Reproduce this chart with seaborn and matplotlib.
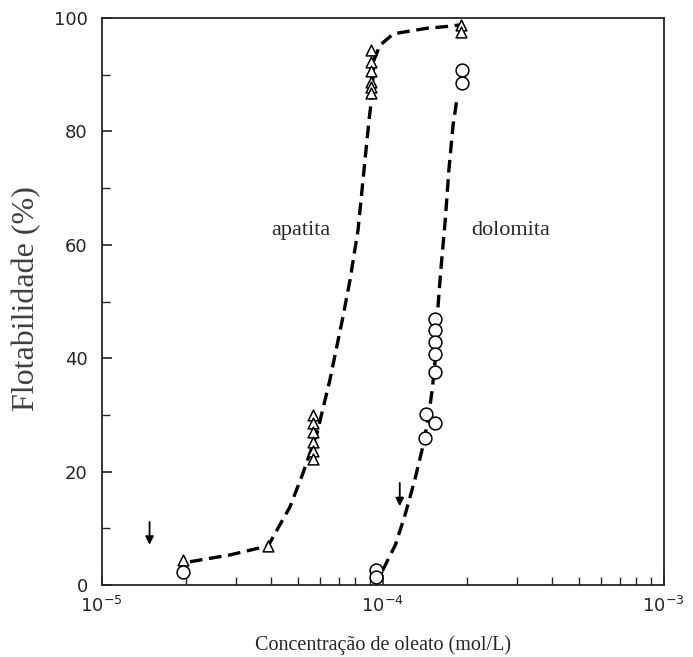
import matplotlib
matplotlib.use("Agg")
import matplotlib.pyplot as plt
import numpy as np
import pandas as pd
import seaborn as sns

# measured points (concentration mol/L, flotability %)
apatita_x = [1.95e-5, 3.9e-5, 5.65e-5, 5.65e-5, 5.65e-5, 5.65e-5, 5.65e-5, 5.65e-5,
             9.1e-5, 9.1e-5, 9.1e-5, 9.1e-5, 9.1e-5, 9.1e-5, 1.9e-4, 1.9e-4]
apatita_y = [4.4, 6.8, 30.0, 28.5, 26.9, 25.3, 23.7, 22.2,
             94.4, 92.3, 90.6, 88.8, 87.8, 86.8, 98.8, 97.6]

dolomita_x = [1.95e-5, 9.5e-5, 9.5e-5, 1.53e-4, 1.53e-4, 1.53e-4, 1.53e-4, 1.53e-4,
              1.43e-4, 1.53e-4, 1.41e-4, 1.92e-4, 1.92e-4]
dolomita_y = [2.3, 2.6, 1.4, 47.0, 44.9, 42.9, 40.7, 37.6,
              30.1, 28.6, 26.0, 90.8, 88.5]

# hand-drawn trend curves
apatita_curve_x = [2.06e-5, 2.86e-5, 3.91e-5, 4.68e-5, 5.21e-5, 5.84e-5, 6.49e-5, 7.22e-5,
                   7.65e-5, 8.17e-5, 8.58e-5, 8.94e-5, 9.16e-5, 9.31e-5, 9.78e-5, 1.09e-4,
                   1.25e-4, 1.44e-4, 1.69e-4, 1.9e-4]
apatita_curve_y = [4.1, 5.3, 6.9, 13.8, 19.8, 26.8, 36.2, 47.3,
                   53.8, 62.6, 73.2, 82.0, 86.4, 92.6, 95.2, 97.2,
                   97.7, 98.2, 98.5, 98.8]

dolomita_curve_x = [1.0e-4, 1.11e-4, 1.2e-4, 1.3e-4, 1.38e-4, 1.45e-4, 1.5e-4, 1.55e-4,
                    1.57e-4, 1.61e-4, 1.67e-4, 1.72e-4, 1.78e-4, 1.84e-4]
dolomita_curve_y = [2.6, 7.1, 12.3, 18.5, 23.8, 29.1, 34.4, 41.4,
                    48.5, 55.6, 64.4, 73.2, 81.1, 85.9]

arrow_x = [1.48e-5, 1.15e-4]
arrow_top = [11.6, 18.5]
arrow_tip = [6.6, 13.4]

sns.set_style("ticks")
plt.rcParams["font.family"] = ["DejaVu Sans"]

fig = plt.figure(figsize=(6.93, 6.57), dpi=100)
ax = fig.add_axes([101.7 / 693, 72 / 657, 562 / 693, 567 / 657])

curves = pd.concat([
    pd.DataFrame({"x": apatita_curve_x, "y": apatita_curve_y, "min": "apatita"}),
    pd.DataFrame({"x": dolomita_curve_x, "y": dolomita_curve_y, "min": "dolomita"}),
])
for name, g in curves.groupby("min"):
    sns.lineplot(data=g, x="x", y="y", ax=ax, color="black", lw=2.4,
                 sort=False, estimator=None, zorder=2)
for line in ax.get_lines():
    line.set_dashes((3.8, 2.0))

sns.scatterplot(x=apatita_x, y=apatita_y, ax=ax, marker="^", s=60,
                facecolor="white", edgecolor="black", linewidth=1.1, zorder=3)
sns.scatterplot(x=dolomita_x, y=dolomita_y, ax=ax, marker="o", s=85,
                facecolor="white", edgecolor="black", linewidth=1.1, zorder=3)

for xa, yt, yb in zip(arrow_x, arrow_top, arrow_tip):
    ax.annotate("", xy=(xa, yb), xytext=(xa, yt),
                arrowprops=dict(arrowstyle="-|>", color="black", lw=1.3,
                                mutation_scale=12))

ax.set_xscale("log")
ax.set_xlim(1e-5, 1e-3)
ax.set_ylim(0, 100)
ax.set_yticks([0, 20, 40, 60, 80, 100])
ax.set_yticks([10, 30, 50, 70, 90], minor=True)
ax.set_xticks([1e-5, 1e-4, 1e-3])
ax.set_xticklabels([r"$10^{-5}$", r"$10^{-4}$", r"$10^{-3}$"])
ax.tick_params(axis="both", which="major", direction="in", length=7, width=1.2,
               labelsize=13)
ax.tick_params(axis="y", which="major", pad=10)
ax.tick_params(axis="x", which="major", pad=8)
ax.tick_params(axis="both", which="minor", direction="in", length=6, width=1.0)
for s in ax.spines.values():
    s.set_linewidth(1.3)

ax.text(6.5e-5, 62.6, "apatita", family="Liberation Serif", fontsize=16, ha="right", va="center")
ax.text(2.06e-4, 62.6, "dolomita", family="Liberation Serif", fontsize=16, ha="left", va="center")

ax.set_xlabel("Concentração de oleato (mol/L)", family="Liberation Serif", fontsize=14.5)
ax.set_ylabel("Flotabilidade (%)", family="Liberation Serif", fontsize=23, color="#404040")
ax.xaxis.set_label_coords(0.5, -0.088)
ax.yaxis.set_label_coords(-0.108, 0.505)

fig.savefig("out.png", dpi=100)
